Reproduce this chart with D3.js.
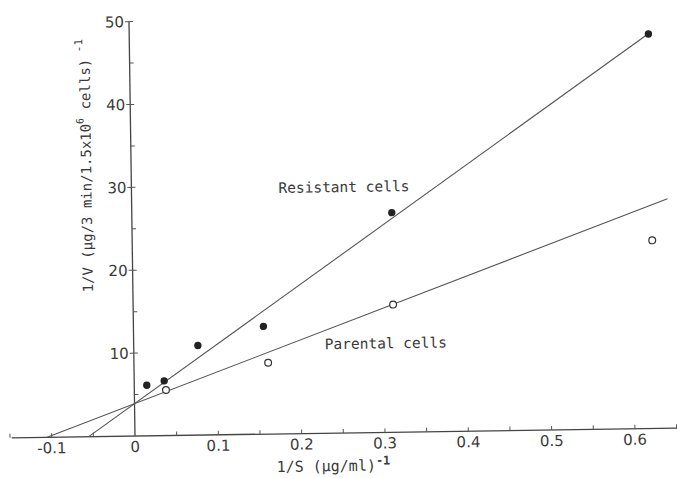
<!DOCTYPE html>
<html>
<head>
<meta charset="utf-8">
<script src="https://cdn.jsdelivr.net/npm/d3@7"></script>
<style>
  body { margin: 0; background: #fff; }
  text { fill: #3a3a3a; }
</style>
</head>
<body>
<div id="chart"></div>
<script>
// Lineweaver-Burk data
const resistantX = [0.015, 0.036, 0.077, 0.156, 0.312, 0.623];
const resistantY = [6.1, 6.6, 10.8, 13.0, 26.5, 47.6];
const parentalX = [0.038, 0.161, 0.312, 0.624];
const parentalY = [5.5, 8.6, 15.4, 22.7];
// fitted lines: [intercept, slope, end x]
const resistantFit = [3.9, 70.2, 0.625];
const parentalFit = [3.9, 37.0, 0.643];
const xTicks = [-0.1, 0, 0.1, 0.2, 0.3, 0.4, 0.5, 0.6];
const yTicks = [10, 20, 30, 40, 50];

const width = 677, height = 478;

const svg = d3.select("#chart").append("svg")
    .attr("width", width)
    .attr("height", height);

const x = d3.scaleLinear().domain([0, 0.6]).range([135, 635]);
const y = d3.scaleLinear().domain([0, 50]).range([436, 21.6]);

// the scan is turned a little, so the whole plot is too
const g = svg.append("g")
    .attr("transform", `rotate(-0.83, ${x(0)}, ${y(0)})`);

// x axis
g.append("line")
    .attr("x1", x(-0.148)).attr("x2", x(0.655))
    .attr("y1", y(0)).attr("y2", y(0))
    .attr("stroke", "#444").attr("stroke-width", 1.3);

const xMinor = d3.range(-0.15, 0.651, 0.05).filter(v => Math.abs(v) > 1e-6);
g.selectAll(".xtick")
    .data(xMinor)
    .enter()
    .append("line")
    .attr("x1", d => x(d)).attr("x2", d => x(d))
    .attr("y1", y(0)).attr("y2", y(0) - 4)
    .attr("stroke", "#555").attr("stroke-width", 1);

g.selectAll(".xlab")
    .data(xTicks)
    .enter()
    .append("text")
    .attr("x", d => x(d))
    .attr("y", y(0) + 16)
    .attr("text-anchor", "middle")
    .style("font-family", "DejaVu Sans")
    .style("font-size", "15px")
    .text(d => d === 0 ? "0" : d.toFixed(1));

// y axis
g.append("line")
    .attr("x1", x(0)).attr("x2", x(0))
    .attr("y1", y(0)).attr("y2", y(50))
    .attr("stroke", "#444").attr("stroke-width", 1.3);

g.selectAll(".ytick")
    .data(yTicks)
    .enter()
    .append("line")
    .attr("x1", x(0) - 4).attr("x2", x(0) + 4)
    .attr("y1", d => y(d)).attr("y2", d => y(d))
    .attr("stroke", "#555").attr("stroke-width", 1);

g.selectAll(".yminor")
    .data(d3.range(5, 50, 10))
    .enter()
    .append("line")
    .attr("x1", x(0)).attr("x2", x(0) + 4)
    .attr("y1", d => y(d)).attr("y2", d => y(d))
    .attr("stroke", "#555").attr("stroke-width", 1);

g.selectAll(".ylab")
    .data(yTicks)
    .enter()
    .append("text")
    .attr("x", x(0) - 5)
    .attr("y", d => y(d) + 5.5)
    .attr("text-anchor", "end")
    .style("font-family", "DejaVu Sans")
    .style("font-size", "15px")
    .text(d => d);

// fitted lines from the x intercept up past the last point
function fitLine(fit) {
    const x0 = -fit[0] / fit[1];
    g.append("line")
        .attr("x1", x(x0)).attr("y1", y(0))
        .attr("x2", x(fit[2])).attr("y2", y(fit[0] + fit[1] * fit[2]))
        .attr("stroke", "#555").attr("stroke-width", 1.1);
}
fitLine(resistantFit);
fitLine(parentalFit);

// points
g.selectAll(".res")
    .data(d3.zip(resistantX, resistantY))
    .enter()
    .append("circle")
    .attr("cx", d => x(d[0]))
    .attr("cy", d => y(d[1]))
    .attr("r", 3.7)
    .attr("fill", "#222");

g.selectAll(".par")
    .data(d3.zip(parentalX, parentalY))
    .enter()
    .append("circle")
    .attr("cx", d => x(d[0]))
    .attr("cy", d => y(d[1]))
    .attr("r", 3.4)
    .attr("fill", "#fff")
    .attr("stroke", "#333")
    .attr("stroke-width", 1.2);

// series labels
g.append("text")
    .attr("x", 282).attr("y", 195)
    .style("font-family", "DejaVu Sans Mono")
    .style("font-size", "14.5px")
    .text("Resistant cells");

g.append("text")
    .attr("x", 326).attr("y", 352)
    .style("font-family", "DejaVu Sans Mono")
    .style("font-size", "14.5px")
    .text("Parental cells");

// axis titles
const xt = g.append("text")
    .attr("x", 333).attr("y", 474)
    .attr("text-anchor", "middle")
    .style("font-family", "DejaVu Sans Mono")
    .style("font-size", "15px");
xt.append("tspan").text("1/S (\u00b5g/ml)");
xt.append("tspan").attr("dy", -6).style("font-size", "12px").style("font-weight", "bold").text("-1");

const yt = g.append("text")
    .attr("transform", "translate(95, 165) rotate(-90)")
    .attr("text-anchor", "middle")
    .style("font-family", "DejaVu Sans Mono")
    .style("font-size", "14px");
yt.append("tspan").text("1/V (\u00b5g/3 min/1.5x10");
yt.append("tspan").attr("dy", -7).style("font-size", "10px").text("6");
yt.append("tspan").attr("dy", 7).text(" cells)");
yt.append("tspan").attr("dy", -7).style("font-size", "11px").text(" -1");
</script>
</body>
</html>
